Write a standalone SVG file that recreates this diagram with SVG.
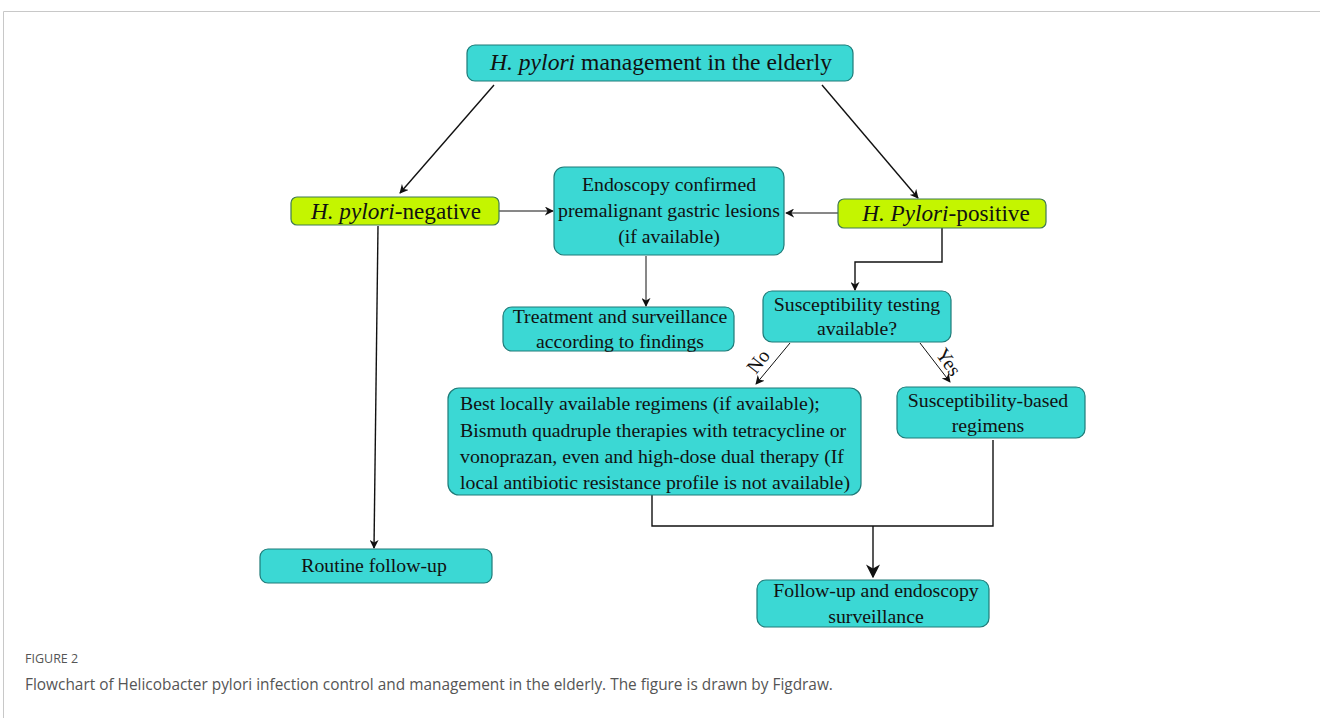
<svg xmlns="http://www.w3.org/2000/svg" width="1320" height="718" viewBox="0 0 1320 718">
<defs>
<style>
.box{fill:#3bd8d4;stroke:#1e7b78;stroke-width:1.2}
.yel{fill:#c4f500;stroke:#3f7a52;stroke-width:1.2}
.t{font-family:"Liberation Serif",serif;fill:#111;font-size:19.8px}
.tc{text-anchor:middle}
.big{font-size:23.6px}
.mid{font-size:23.2px}
.ln{fill:none;stroke:#111;stroke-width:1.4}
.thin{stroke-width:1}
.cap{font-family:"Open Sans","Noto Sans",sans-serif;fill:#555}
</style>
<marker id="ah" viewBox="0 0 10 10" refX="9" refY="5" markerWidth="9" markerHeight="9" markerUnits="userSpaceOnUse" orient="auto">
<path d="M0,0 L10,5 L0,10 L3,5 z" fill="#111"/>
</marker>
<marker id="ahb" viewBox="0 0 10 10" refX="9" refY="5" markerWidth="14" markerHeight="14" markerUnits="userSpaceOnUse" orient="auto">
<path d="M0,0 L10,5 L0,10 L3,5 z" fill="#111"/>
</marker>
<linearGradient id="gL" x1="1" y1="0" x2="0" y2="1"><stop offset="0" stop-color="#bbb"/><stop offset="0.5" stop-color="#111"/></linearGradient>
<linearGradient id="gR" x1="0" y1="0" x2="1" y2="1"><stop offset="0" stop-color="#bbb"/><stop offset="0.5" stop-color="#111"/></linearGradient>
</defs>
<rect width="1320" height="718" fill="#fff"/>
<path d="M3.5,718 V11.5 H1320" fill="none" stroke="#c8c8c8" stroke-width="1"/>

<g id="connectors">
<line class="ln" x1="494" y1="85" x2="400" y2="193" stroke="url(#gL)" stroke-width="1.8" marker-end="url(#ah)"/>
<line class="ln" x1="822" y1="85" x2="918" y2="198" stroke="url(#gR)" stroke-width="1.8" marker-end="url(#ah)"/>
<line class="ln thin" x1="499" y1="211" x2="553" y2="211" marker-end="url(#ah)"/>
<line class="ln thin" x1="838" y1="213" x2="786" y2="213" marker-end="url(#ah)"/>
<line class="ln thin" x1="646" y1="256" x2="646" y2="306" marker-end="url(#ah)"/>
<line class="ln" x1="378" y1="226" x2="374" y2="548" marker-end="url(#ah)"/>
<path class="ln" d="M942,228 V262 H855 V290" marker-end="url(#ah)"/>
<line class="ln thin" x1="790" y1="343" x2="756" y2="384" marker-end="url(#ah)"/>
<line class="ln thin" x1="920" y1="343" x2="950" y2="382" marker-end="url(#ah)"/>
<path class="ln" d="M652,495 V526 H993 V440"/>
<line class="ln" x1="873" y1="526" x2="873" y2="577" marker-end="url(#ahb)"/>
<text class="t" x="0" y="0" transform="translate(756,375) rotate(-52)" font-size="18">No</text>
<text class="t" x="0" y="0" transform="translate(935,354) rotate(55)" font-size="18">Yes</text>
</g>

<g id="n-top">
<rect class="box" x="467" y="45" width="386" height="36" rx="8"/>
<text class="t tc big" x="661" y="70"><tspan font-style="italic">H. pylori</tspan>  management in the elderly</text>
</g>
<g id="n-neg">
<rect class="yel" x="291" y="197" width="208" height="28" rx="6"/>
<text class="t tc mid" x="396" y="219"><tspan font-style="italic">H. pylori</tspan>-negative</text>
</g>
<g id="n-endo">
<rect class="box" x="554" y="167" width="230" height="88" rx="10"/>
<text class="t tc" x="669" y="191">Endoscopy confirmed</text>
<text class="t tc" x="669" y="217">premalignant gastric lesions</text>
<text class="t tc" x="669" y="243">(if available)</text>
</g>
<g id="n-pos">
<rect class="yel" x="838" y="199" width="208" height="29" rx="6"/>
<text class="t tc mid" x="946" y="221"><tspan font-style="italic">H. Pylori</tspan>-positive</text>
</g>
<g id="n-treat">
<rect class="box" x="503" y="307" width="231" height="44" rx="9"/>
<text class="t tc" x="620" y="323">Treatment and surveillance</text>
<text class="t tc" x="620" y="348">according to findings</text>
</g>
<g id="n-susc">
<rect class="box" x="763" y="291" width="188" height="51" rx="9"/>
<text class="t tc" x="857" y="311">Susceptibility testing</text>
<text class="t tc" x="857" y="335">available?</text>
</g>
<g id="n-best">
<rect class="box" x="448" y="388" width="413" height="107" rx="11"/>
<text class="t" x="460" y="410" font-size="19.4">Best locally available regimens (if available);</text>
<text class="t" x="460" y="437" font-size="19.4">Bismuth quadruple therapies with tetracycline or</text>
<text class="t" x="460" y="463" font-size="19.4">vonoprazan, even and high-dose dual therapy (If</text>
<text class="t" x="460" y="489" font-size="19.4">local antibiotic resistance profile is not available)</text>
</g>
<g id="n-sb">
<rect class="box" x="897" y="387" width="188" height="51" rx="9"/>
<text class="t tc" x="988" y="407">Susceptibility-based</text>
<text class="t tc" x="988" y="432">regimens</text>
</g>
<g id="n-routine">
<rect class="box" x="260" y="549" width="232" height="34" rx="8"/>
<text class="t tc" x="374" y="572">Routine follow-up</text>
</g>
<g id="n-follow">
<rect class="box" x="757" y="580" width="232" height="47" rx="9"/>
<text class="t tc" x="876" y="597">Follow-up and endoscopy</text>
<text class="t tc" x="876" y="623">surveillance</text>
</g>

<text class="cap" x="25" y="663" font-size="12.5">FIGURE 2</text>
<text class="cap" x="25" y="690" font-size="15.4">Flowchart of Helicobacter pylori infection control and management in the elderly. The figure is drawn by Figdraw.</text>
</svg>
